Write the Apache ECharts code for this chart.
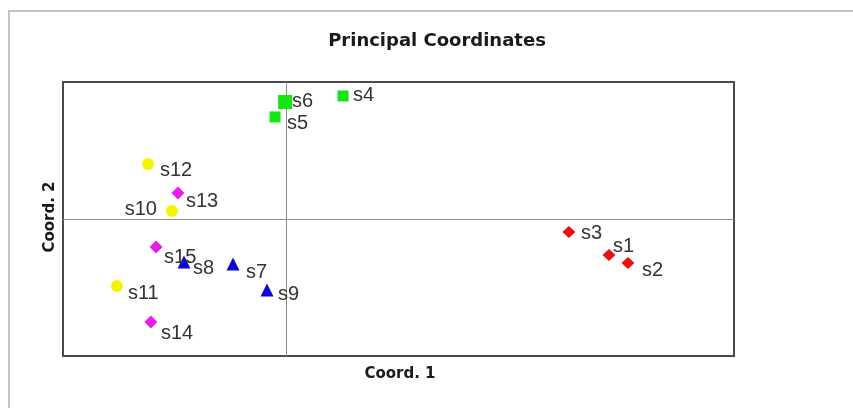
<!DOCTYPE html>
<html>
<head>
<meta charset="utf-8">
<script src="https://cdn.jsdelivr.net/npm/echarts@6/dist/echarts.min.js"></script>
<style>
  html, body { margin: 0; padding: 0; background: #ffffff; }
  #chart { width: 853px; height: 408px; }
</style>
</head>
<body>
<div id="chart"></div>
<script>
// Sample names and their principal coordinate scores
const sampleNames = ['s1','s2','s3','s4','s5','s6','s7','s8','s9','s10','s11','s12','s13','s14','s15'];
const coord1 = [1.441, 1.526, 1.262, 0.252, -0.052, -0.007, -0.240, -0.459, -0.088, -0.513, -0.759, -0.620, -0.486, -0.607, -0.584];
const coord2 = [-0.263, -0.321, -0.095, 0.898, 0.745, 0.854, -0.328, -0.314, -0.518, 0.058, -0.489, 0.401, 0.190, -0.752, -0.204];
// Group membership of each sample (index into groupNames)
const sampleGroup = [0, 0, 0, 1, 1, 1, 2, 2, 2, 3, 3, 3, 4, 4, 4];
const groupNames = ['A', 'B', 'C', 'D', 'E'];

// Marker look per group
const groupStyle = [
  { symbol: 'diamond',  size: [13, 12], color: '#e81010' },
  { symbol: 'rect',     size: 11,       color: '#14e614' },
  { symbol: 'triangle', size: 13,       color: '#0a0ad2' },
  { symbol: 'circle',   size: 12,       color: '#f5f500' },
  { symbol: 'diamond',  size: [13, 13], color: '#e61ee6' }
];

// Where each point's label sits relative to its marker
const labelPlacement = {
  s1: [4, -9], s2: [14, 8], s3: [12, 1], s4: [10, 0], s5: [12, 7], s6: [7, -1],
  s7: [13, 9], s8: [9, 6], s9: [11, 5], s10: [-15, -2], s11: [11, 7], s12: [12, 6],
  s13: [8, 9], s14: [10, 11], s15: [8, 11]
};
const largerMarkers = { s6: 14 };

const series = groupNames.map(function (g, gi) {
  const st = groupStyle[gi];
  const data = [];
  sampleNames.forEach(function (name, i) {
    if (sampleGroup[i] !== gi) return;
    const off = labelPlacement[name];
    const item = {
      name: name,
      value: [coord1[i], coord2[i]],
      label: {
        align: off[0] < 0 ? 'right' : 'left',
        offset: off
      }
    };
    if (largerMarkers[name]) item.symbolSize = largerMarkers[name];
    data.push(item);
  });
  return {
    type: 'scatter',
    name: g,
    symbol: st.symbol,
    symbolSize: st.size,
    itemStyle: { color: st.color, opacity: 1 },
    label: {
      show: true,
      position: 'inside',
      verticalAlign: 'middle',
      formatter: '{b}',
      color: '#333333',
      fontFamily: 'Liberation Sans, Arial, sans-serif',
      fontSize: 20
    },
    emphasis: { disabled: true },
    data: data
  };
});

const chart = echarts.init(document.getElementById('chart'), null, { renderer: 'canvas' });
chart.setOption({
  animation: false,
  backgroundColor: '#ffffff',
  grid: {
    left: 63, top: 82, right: 119, bottom: 52,
    show: true,
    borderColor: '#4a4a4a',
    borderWidth: 2,
    backgroundColor: 'transparent'
  },
  xAxis: {
    type: 'value', min: -1, max: 2,
    axisLine: { show: true, onZero: true, lineStyle: { color: '#8a8a8a', width: 1 } },
    axisTick: { show: false },
    axisLabel: { show: false },
    splitLine: { show: false }
  },
  yAxis: {
    type: 'value', min: -1, max: 1,
    axisLine: { show: true, onZero: true, lineStyle: { color: '#8a8a8a', width: 1 } },
    axisTick: { show: false },
    axisLabel: { show: false },
    splitLine: { show: false }
  },
  graphic: [
    {
      type: 'rect',
      shape: { x: 9, y: 11, width: 900, height: 450 },
      style: { fill: 'none', stroke: '#c4c4c4', lineWidth: 2 },
      silent: true
    },
    {
      type: 'text',
      x: 437, y: 41,
      style: {
        text: 'Principal Coordinates',
        fontFamily: 'DejaVu Sans', fontWeight: 'bold', fontSize: 18,
        fill: '#1a1a1a', align: 'center', verticalAlign: 'middle'
      }
    },
    {
      type: 'text',
      x: 400, y: 374,
      style: {
        text: 'Coord. 1',
        fontFamily: 'DejaVu Sans', fontWeight: 'bold', fontSize: 15,
        fill: '#1a1a1a', align: 'center', verticalAlign: 'middle'
      }
    },
    {
      type: 'text',
      x: 50, y: 217,
      rotation: Math.PI / 2,
      style: {
        text: 'Coord. 2',
        fontFamily: 'DejaVu Sans', fontWeight: 'bold', fontSize: 15,
        fill: '#1a1a1a', align: 'center', verticalAlign: 'middle'
      }
    }
  ],
  series: series
});
</script>
</body>
</html>
